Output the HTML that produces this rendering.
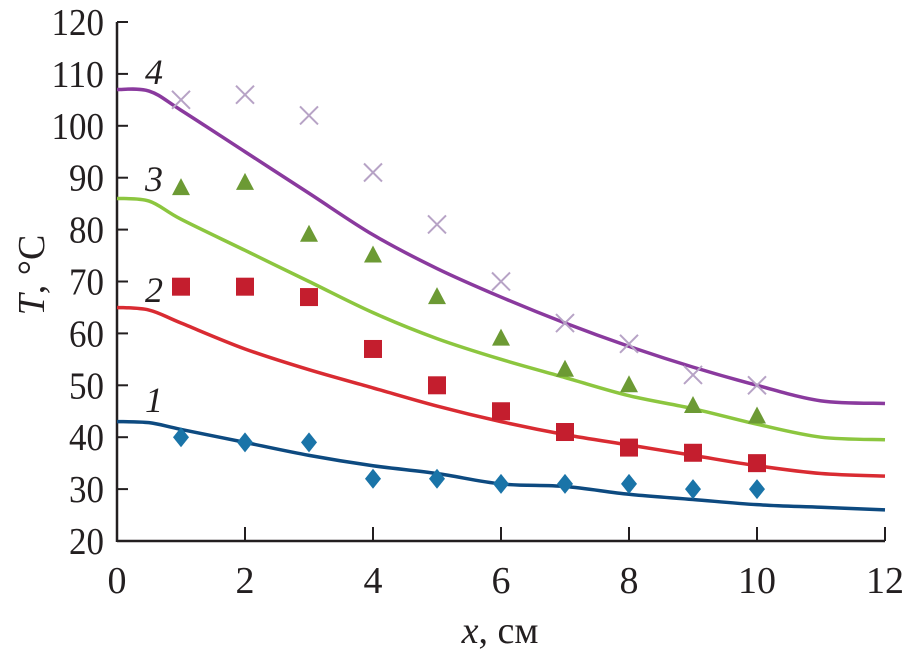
<!DOCTYPE html>
<html><head><meta charset="utf-8"><style>
html,body{margin:0;padding:0;background:#fff;}
svg text{font-family:"Liberation Serif",serif;fill:#231f20;}
</style></head><body>
<svg id="chart" width="906" height="657" viewBox="0 0 906 657">
<g id="axes"></g><g id="series"></g>
</svg>
<script>
const xTicks=[0,2,4,6,8,10,12];
const yTicks=[20,30,40,50,60,70,80,90,100,110,120];
const curveX=[0,0.5,1,2,3,4,5,6,7,8,9,10,11,12];
const curve1=[43,42.8,41.5,39,36.5,34.5,33,31,30.5,29,28,27,26.5,26];
const curve2=[65,64.5,62,57,53,49.5,46,43,40.5,38.5,36.5,34.5,33,32.5];
const curve3=[86,85.5,82,76,70,64,59,55,51.5,48,45.5,42.5,40,39.5];
const curve4=[107,106.7,103,95,87,79,72.5,67,62,57.5,53.5,50,47,46.5];
const pointX=[1,2,3,4,5,6,7,8,9,10];
const points1=[40,39,39,32,32,31,31,31,30,30];
const points2=[69,69,67,57,50,45,41,38,37,35];
const points3=[88,89,79,75,67,59,53,50,46,44];
const points4=[105,106,102,91,81,70,62,58,52,50];

const X=v=>117+v*64;
const Y=v=>541-(v-20)*5.19;
const NS="http://www.w3.org/2000/svg";
const ax=document.getElementById('axes'), se=document.getElementById('series');
function mk(tag,attrs,parent,text){const e=document.createElementNS(NS,tag);for(const k in attrs)e.setAttribute(k,attrs[k]);if(text!==undefined)e.textContent=text;parent.appendChild(e);return e;}

let e;
e=mk('line',{x1:X(0),y1:Y(20),x2:X(12),y2:Y(20),stroke:'#231f20','stroke-width':2.5},ax);


e=mk('line',{x1:X(0),y1:Y(20)+1,x2:X(0),y2:Y(120),stroke:'#231f20','stroke-width':2.5},ax);


xTicks.forEach(t=>{
 e=mk('line',{x1:X(t),y1:Y(20),x2:X(t),y2:Y(20)-14,stroke:'#231f20','stroke-width':2},ax);
 
 
 e=mk('text',{x:X(t),y:593,'font-size':38,'text-anchor':'middle'},ax,String(t));
 
 
});
yTicks.forEach(t=>{
 e=mk('line',{x1:X(0),y1:Y(t),x2:X(0)+11,y2:Y(t),stroke:'#231f20','stroke-width':2},ax);
 
 
 e=mk('text',{x:104,y:Y(t)+13,'font-size':38,'text-anchor':'end',textLength:String(t).length*17.5,lengthAdjust:'spacingAndGlyphs'},ax,String(t));
 
 
});
e=mk('text',{x:500,y:643,'font-size':38,'text-anchor':'middle'},ax);
e.innerHTML='<tspan font-style="italic">x</tspan>, см';


e=mk('text',{x:0,y:0,'font-size':38,'text-anchor':'middle',transform:'translate(44,275) rotate(-90)'},ax);
e.innerHTML='<tspan font-style="italic">T</tspan>, °C';



function smoothPath(xs,ys){
 const p=xs.map((x,i)=>[X(x),Y(ys[i])]);
 let d='M'+p[0][0]+','+p[0][1];
 for(let i=0;i<p.length-1;i++){
  const p0=p[Math.max(0,i-1)],p1=p[i],p2=p[i+1],p3=p[Math.min(p.length-1,i+2)];
  const c1=[p1[0]+(p2[0]-p0[0])/6,p1[1]+(p2[1]-p0[1])/6];
  const c2=[p2[0]-(p3[0]-p1[0])/6,p2[1]-(p3[1]-p1[1])/6];
  d+=` C${c1[0]},${c1[1]} ${c2[0]},${c2[1]} ${p2[0]},${p2[1]}`;
 }
 return d;
}
const series=[
 {c:curve1,p:points1,col:'#0d4a80',mcol:'#1a74a8',m:'diamond',lab:'1',ly:412},
 {c:curve2,p:points2,col:'#d92b32',mcol:'#c41e2e',m:'square',lab:'2',ly:302},
 {c:curve3,p:points3,col:'#8cc63f',mcol:'#6c9a34',m:'triangle',lab:'3',ly:191},
 {c:curve4,p:points4,col:'#8a3a9e',mcol:'#b7a3c6',m:'cross',lab:'4',ly:84}
];
series.forEach((s,si)=>{
 e=mk('path',{d:smoothPath(curveX,s.c),fill:'none',stroke:s.col,'stroke-width':3.5},se);
 
 
 s.p.forEach((v,i)=>{
  const cx=X(pointX[i]),cy=Y(v);
  if(s.m==='diamond') e=mk('polygon',{points:`${cx},${cy-10} ${cx+8},${cy} ${cx},${cy+10} ${cx-8},${cy}`,fill:s.mcol},se);
  else if(s.m==='square') e=mk('rect',{x:cx-9,y:cy-9,width:18,height:18,fill:s.mcol},se);
  else if(s.m==='triangle') e=mk('polygon',{points:`${cx},${cy-10} ${cx+9},${cy+7} ${cx-9},${cy+7}`,fill:s.mcol},se);
  else e=mk('path',{d:`M${cx-9},${cy-9}L${cx+9},${cy+9}M${cx+9},${cy-9}L${cx-9},${cy+9}`,stroke:s.mcol,'stroke-width':2,fill:'none'},se);
  
  
 });
 e=mk('text',{x:154,y:s.ly,'font-size':36,'font-style':'italic','text-anchor':'middle'},se,s.lab);
 
 
});
</script>
</body></html>
